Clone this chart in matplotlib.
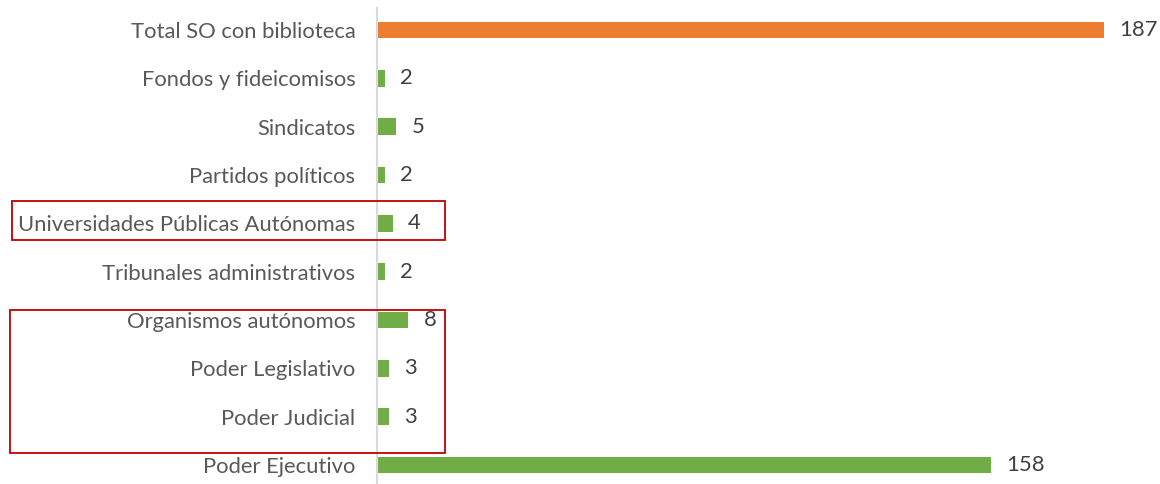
import matplotlib
matplotlib.use("Agg")
import matplotlib.pyplot as plt
from matplotlib.patches import Rectangle

categories = ["Poder Ejecutivo", "Poder Judicial", "Poder Legislativo",
              "Organismos autónomos", "Tribunales administrativos",
              "Universidades Públicas Autónomas", "Partidos políticos",
              "Sindicatos", "Fondos y fideicomisos", "Total SO con biblioteca"]
values = [158, 3, 3, 8, 2, 4, 2, 5, 2, 187]
colors = ["#70AD47"] * 9 + ["#ED7D31"]

plt.rcParams['font.family'] = ['Lato', 'DejaVu Sans']
W, H = 1160, 484
fig = plt.figure(figsize=(W / 100, H / 100), dpi=100)
left = 377 / W
top_px, bot_px = 8, 484
ax = fig.add_axes([left, 0, 1 - left, (bot_px - top_px) / H])

y = list(range(len(categories)))
ax.barh(y, values, height=0.35, color=colors)
ax.set_xlim(0, (W - 377) / 3.888)
ax.set_ylim(-(484 - 465) / 48.3, 9 + (30 - top_px) / 48.3)
ax.set_yticks(y)
ax.set_yticklabels(categories, fontsize=15.8, color="#595959")
ax.tick_params(axis='y', length=0, pad=15.5)
ax.set_xticks([])
for s in ["top", "right", "bottom"]:
    ax.spines[s].set_visible(False)
ax.spines["left"].set_color("#D9D9D9")
ax.spines["left"].set_linewidth(1.5)

for yi, v in zip(y, values):
    ax.annotate(str(v), (v, yi), xytext=(11, 0), textcoords="offset points",
                va="center", ha="left", fontsize=15.8, color="#404040")

def px_rect(x0, y0, x1, y1):
    r = Rectangle((x0 / W, 1 - y1 / H), (x1 - x0) / W, (y1 - y0) / H,
                  transform=fig.transFigure, fill=False, edgecolor="#C00000",
                  linewidth=1.3, clip_on=False)
    fig.add_artist(r)

px_rect(12, 201, 445, 240)
px_rect(10, 310, 445, 453)

fig.savefig("out.png", dpi=100)
